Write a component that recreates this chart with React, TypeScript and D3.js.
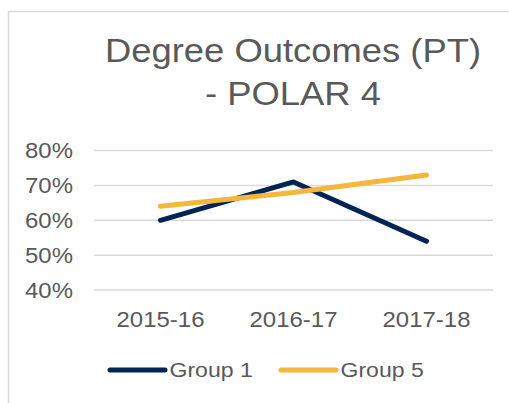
import React from "react";
import * as d3 from "d3";

const categories = ["2015-16", "2016-17", "2017-18"];
const group1 = [0.60, 0.71, 0.54];
const group5 = [0.64, 0.68, 0.73];
const yTicks = [0.4, 0.5, 0.6, 0.7, 0.8];
const seriesNames = ["Group 1", "Group 5"];
const titleLines = ["Degree Outcomes (PT)", "- POLAR 4"];

const W = 509;
const H = 403;
const SX = 1.12;
const FONT = "'Liberation Sans', Arial, sans-serif";
const TXT = "#595959";
const GRID = "#d9d9d9";
const colors = ["#002554", "#f4b63b"];

export default function App() {
  const x = d3.scaleBand<string>().domain(categories).range([94, 493]);
  const y = d3.scaleLinear().domain([0.4, 0.8]).range([290, 150.6]);
  const line = d3
    .line<number>()
    .x((_, i) => (x(categories[i]) as number) + x.bandwidth() / 2)
    .y((d) => y(d));
  const fmt = d3.format(".0%");
  const series = [group1, group5];
  const T = (px: number, py: number, size: number, anchor: string, s: string, fill = TXT) => (
    <text
      transform={`translate(${px},${py}) scale(${SX},1)`}
      fontSize={size}
      textAnchor={anchor}
      fill={fill}
      fontFamily={FONT}
    >
      {s}
    </text>
  );
  const legendX = [110, 281];
  return (
    <div style={{ position: "fixed", left: 0, top: 0, width: W, height: H, background: "#fff" }}>
      <svg width={W} height={H} style={{ display: "block" }}>
        <rect x={0} y={0} width={W} height={H} fill="#fff" />
        <line x1={8} x2={W} y1={11.5} y2={11.5} stroke={GRID} strokeWidth={1.5} />
        <line x1={8.5} x2={8.5} y1={11} y2={H} stroke={GRID} strokeWidth={1.5} />
        {titleLines.map((t, i) => (
          <g key={t}>{T(293, 62 + i * 43, 32.5, "middle", t)}</g>
        ))}
        {yTicks.map((t) => (
          <g key={t}>
            <line x1={94} x2={493} y1={y(t)} y2={y(t)} stroke={GRID} strokeWidth={1.5} />
            {T(73, y(t) + 7.7, 21.4, "end", fmt(t))}
          </g>
        ))}
        {categories.map((c) => (
          <g key={c}>{T((x(c) as number) + x.bandwidth() / 2, 327, 21.4, "middle", c)}</g>
        ))}
        {series.map((s, i) => (
          <path
            key={i}
            d={line(s) || ""}
            fill="none"
            stroke={colors[i]}
            strokeWidth={5}
            strokeLinecap="round"
            strokeLinejoin="round"
          />
        ))}
        {seriesNames.map((n, i) => (
          <g key={n}>
            <line
              x1={legendX[i]}
              x2={legendX[i] + 55}
              y1={370}
              y2={370}
              stroke={colors[i]}
              strokeWidth={5}
              strokeLinecap="round"
            />
            {T(legendX[i] + 59.5, 377.3, 20.6, "start", n)}
          </g>
        ))}
      </svg>
    </div>
  );
}
